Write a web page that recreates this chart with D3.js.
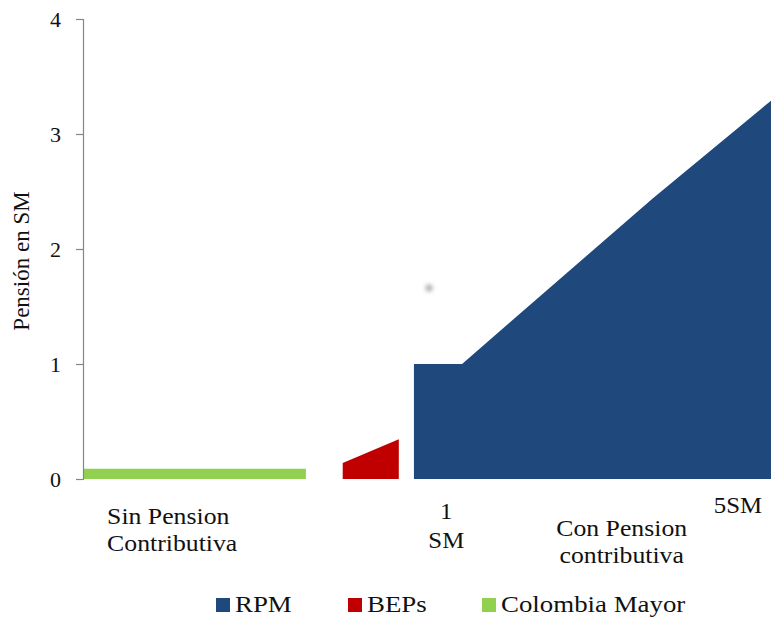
<!DOCTYPE html>
<html>
<head>
<meta charset="utf-8">
<script src="https://cdn.jsdelivr.net/npm/d3@7"></script>
<style>
  html, body { margin: 0; padding: 0; background: #fff; }
  svg { display: block; font-family: "Liberation Serif", "Times New Roman", serif; }
</style>
</head>
<body>
<svg id="chart" width="771" height="617"></svg>
<script>
// Pension level (in minimum salaries) along the population axis
const colombiaMayor = [ { x: 0, v: 0.09 }, { x: 32.4, v: 0.09 } ];
const beps          = [ { x: 37.75, v: 0.14 }, { x: 45.9, v: 0.345 } ];
const rpm           = [ { x: 48.1, v: 1.0 }, { x: 55.1, v: 1.0 }, { x: 82.8, v: 2.44 }, { x: 100, v: 3.29 } ];

const yTicks = [0, 1, 2, 3, 4];
const xMarkers = [ { x: 52.8, lines: ["1", "SM"] }, { x: 95.2, lines: ["5SM"] } ];
const groupLabels = [
  { x: 3.5, anchor: "start", lines: ["Sin Pension", "Contributiva"] },
  { x: 78.3, anchor: "middle", lines: ["Con Pension", "contributiva"] }
];
const seriesNames  = ["RPM", "BEPs", "Colombia Mayor"];
const seriesColors = ["#1F497D", "#C00000", "#92D050"];
const spot = [ { x: 50.3, v: 1.66 } ];

const svg = d3.select("#chart");
const W = 771, H = 617;
const margin = { left: 83, right: 0, top: 19, bottom: 138 };

const x = d3.scaleLinear().domain([0, 100]).range([margin.left, W - margin.right]);
const y = d3.scaleLinear().domain([0, 4]).range([H - margin.bottom, margin.top]);

const area = d3.area().x(d => x(d.x)).y0(y(0)).y1(d => y(d.v));

const defs = svg.append("defs");
defs.append("filter").attr("id", "soft")
  .attr("x", "-100%").attr("y", "-100%").attr("width", "300%").attr("height", "300%")
  .append("feGaussianBlur").attr("stdDeviation", 2);

// series areas
[rpm, beps, colombiaMayor].forEach((data, i) => {
  svg.append("path").datum(data)
    .attr("d", area)
    .attr("fill", seriesColors[i]);
});

// faint smudge in the plot area
svg.selectAll("circle.spot").data(spot).join("circle")
  .attr("class", "spot")
  .attr("cx", d => x(d.x)).attr("cy", d => y(d.v)).attr("r", 3.5)
  .attr("fill", "#aaa").attr("filter", "url(#soft)");

// y axis
const yAxis = svg.append("g")
  .attr("transform", `translate(${margin.left},0)`)
  .call(d3.axisLeft(y).tickValues(yTicks).tickFormat(d3.format("d")).tickSize(7).tickPadding(15));
yAxis.select(".domain").attr("stroke", "#868686").attr("stroke-width", 1.2);
yAxis.selectAll(".tick line").attr("stroke", "#868686").attr("stroke-width", 1.2);
yAxis.selectAll(".tick text")
  .attr("fill", "#111").style("font-size", "22px")
  .style("font-family", "'Liberation Serif', serif");

// y title
svg.append("text")
  .attr("transform", `translate(29,${(y(0) + y(4)) / 2 + 12}) rotate(-90)`)
  .attr("text-anchor", "middle")
  .attr("fill", "#111")
  .style("font-size", "23px")
  .text("Pensión en SM");

// stretched horizontal text helper
function label(g, px, py, txt, anchor, size, sx) {
  g.append("text")
    .attr("transform", `translate(${px},${py}) scale(${sx},1)`)
    .attr("text-anchor", anchor)
    .attr("fill", "#111")
    .style("font-size", size + "px")
    .text(txt);
}

const lab = svg.append("g");
xMarkers.forEach(m => {
  const base = m.lines.length > 1 ? 519 : 513;
  m.lines.forEach((t, j) => label(lab, x(m.x), base + j * 29, t, "middle", 23, 1.08));
});
groupLabels.forEach(gl => {
  const base = gl.anchor === "start" ? 524 : 536;
  gl.lines.forEach((t, j) => label(lab, x(gl.x), base + j * 27, t, gl.anchor, 23, 1.12));
});

// legend
const legendX = [216, 348, 482];
const leg = svg.append("g");
seriesNames.forEach((name, i) => {
  leg.append("rect")
    .attr("x", legendX[i]).attr("y", 598).attr("width", 14).attr("height", 14)
    .attr("fill", seriesColors[i]);
  label(leg, legendX[i] + 19, 612, name, "start", 24, 1.12);
});
</script>
</body>
</html>
